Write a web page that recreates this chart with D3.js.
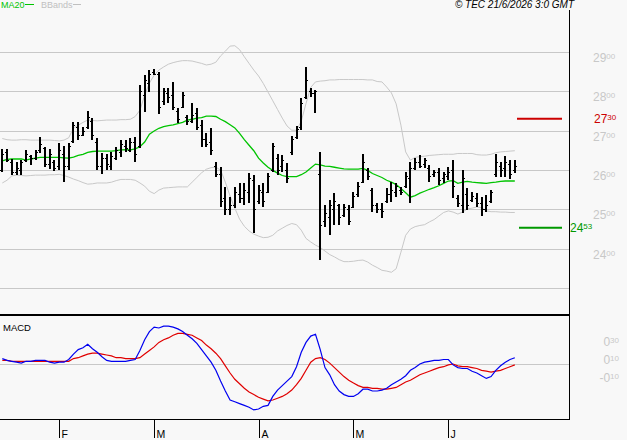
<!DOCTYPE html>
<html>
<head>
<meta charset="utf-8">
<script src="https://cdn.jsdelivr.net/npm/d3@7"></script>
<style>
  html, body { margin: 0; padding: 0; background: #f8f8f8; }
  svg { display: block; font-family: Arial, "Liberation Sans", sans-serif; }
</style>
</head>
<body>
<div id="chart"></div>
<script>
// daily bars, one per trading session (mid-January to mid-June)
const high = [
  2653, 2653, 2628, 2620, 2625, 2651, 2638, 2651, 2684, 2658,
  2653, 2625, 2668, 2661, 2668, 2722, 2722, 2709, 2750, 2732,
  2681, 2643, 2640, 2645, 2658, 2676, 2676, 2681, 2684, 2816,
  2841, 2854, 2857, 2849, 2808, 2808, 2824, 2757, 2798, 2740,
  2770, 2757, 2727, 2694, 2707, 2620, 2607, 2557, 2531, 2557,
  2567, 2567, 2592, 2587, 2562, 2567, 2592, 2668, 2640, 2638,
  2618, 2686, 2712, 2783, 2862, 2808, 2803, 2645, 2511, 2523,
  2541, 2513, 2513, 2511, 2544, 2569, 2640, 2605, 2554, 2516,
  2516, 2554, 2569, 2567, 2557, 2595, 2620, 2630, 2638, 2630,
  2613, 2600, 2605, 2595, 2607, 2625, 2536, 2600, 2554, 2544,
  2541, 2531, 2536, 2549, 2640, 2620, 2635, 2625, 2625
];
const low = [
  2595, 2620, 2587, 2587, 2587, 2620, 2613, 2625, 2643, 2607,
  2602, 2597, 2600, 2569, 2600, 2668, 2676, 2686, 2704, 2676,
  2600, 2590, 2600, 2600, 2625, 2633, 2645, 2645, 2620, 2656,
  2747, 2798, 2841, 2742, 2765, 2770, 2752, 2719, 2757, 2714,
  2719, 2701, 2658, 2658, 2638, 2582, 2506, 2485, 2485, 2503,
  2516, 2511, 2516, 2440, 2513, 2506, 2541, 2595, 2587, 2595,
  2567, 2638, 2679, 2701, 2780, 2785, 2745, 2371, 2455, 2434,
  2460, 2460, 2480, 2460, 2503, 2531, 2567, 2574, 2493, 2490,
  2478, 2516, 2518, 2531, 2536, 2554, 2516, 2600, 2605, 2605,
  2569, 2582, 2562, 2567, 2574, 2529, 2506, 2490, 2498, 2518,
  2506, 2483, 2493, 2516, 2582, 2582, 2582, 2577, 2592
];
const open = [
  2600, 2645, 2620, 2595, 2600, 2625, 2635, 2630, 2650, 2655,
  2615, 2620, 2610, 2640, 2610, 2675, 2710, 2690, 2710, 2725,
  2670, 2610, 2630, 2610, 2630, 2645, 2660, 2650, 2670, 2660,
  2790, 2820, 2850, 2845, 2775, 2795, 2790, 2750, 2760, 2735,
  2725, 2745, 2715, 2680, 2670, 2610, 2590, 2530, 2500, 2510,
  2540, 2530, 2545, 2575, 2520, 2545, 2545, 2600, 2630, 2610,
  2600, 2645, 2685, 2710, 2785, 2800, 2795, 2590, 2470, 2480,
  2500, 2510, 2485, 2500, 2505, 2540, 2570, 2600, 2550, 2510,
  2500, 2520, 2540, 2545, 2550, 2560, 2580, 2605, 2620, 2615,
  2605, 2590, 2595, 2580, 2585, 2600, 2530, 2510, 2540, 2525,
  2530, 2515, 2500, 2520, 2590, 2610, 2605, 2615, 2600
];
const close = [
  2640, 2625, 2595, 2605, 2620, 2640, 2630, 2645, 2665, 2615,
  2640, 2605, 2650, 2610, 2660, 2715, 2690, 2700, 2735, 2690,
  2610, 2630, 2615, 2635, 2650, 2665, 2655, 2670, 2640, 2800,
  2830, 2845, 2845, 2760, 2800, 2785, 2760, 2730, 2790, 2725,
  2740, 2710, 2680, 2665, 2650, 2590, 2520, 2500, 2510, 2545,
  2530, 2550, 2580, 2500, 2550, 2520, 2585, 2660, 2600, 2625,
  2580, 2680, 2705, 2770, 2830, 2795, 2800, 2460, 2490, 2510,
  2520, 2480, 2505, 2470, 2535, 2560, 2620, 2585, 2510, 2500,
  2495, 2540, 2550, 2560, 2545, 2585, 2605, 2620, 2610, 2625,
  2585, 2595, 2575, 2590, 2595, 2560, 2515, 2580, 2510, 2535,
  2515, 2500, 2510, 2545, 2620, 2600, 2620, 2590, 2610
];
const ma20 = [
  2623, 2627, 2628, 2628, 2628, 2625, 2628, 2630, 2632, 2632,
  2632, 2632, 2632, 2631, 2630, 2633, 2637, 2640, 2645, 2647,
  2648, 2648, 2648, 2648, 2649, 2651, 2652, 2651, 2654, 2659,
  2671, 2691, 2699, 2706, 2710, 2713, 2715, 2718, 2721, 2727,
  2729, 2732, 2733, 2737, 2737, 2736, 2729, 2723, 2715, 2707,
  2693, 2677, 2663, 2649, 2630, 2618, 2607, 2599, 2592, 2586,
  2583, 2583, 2583, 2588, 2595, 2605, 2615, 2613, 2610, 2609,
  2607, 2605, 2603, 2602, 2602, 2602, 2604, 2599, 2591, 2586,
  2581, 2574, 2569, 2563, 2553, 2542, 2531, 2535, 2541, 2546,
  2551, 2555, 2560, 2566, 2572, 2573, 2566, 2569, 2571, 2569,
  2568, 2567, 2566, 2568, 2569, 2571, 2572, 2572, 2572
];
const bbUpper = [
  2680, 2677, 2676, 2676, 2677, 2677, 2676, 2676, 2676, 2676,
  2676, 2675, 2674, 2676, 2682, 2707, 2714, 2721, 2727, 2726,
  2725, 2726, 2727, 2727, 2727, 2728, 2728, 2729, 2736, 2752,
  2790, 2821, 2841, 2854, 2862, 2869, 2873, 2876, 2878, 2878,
  2877, 2874, 2871, 2867, 2869, 2874, 2890, 2902, 2915, 2916,
  2906, 2888, 2871, 2854, 2839, 2820, 2798, 2776, 2754, 2732,
  2712, 2701, 2701, 2724, 2769, 2810, 2824, 2826, 2827, 2829,
  2829, 2830, 2830, 2830, 2830, 2830, 2830, 2829, 2829, 2825,
  2824, 2811, 2796, 2768, 2714, 2646, 2625, 2632, 2634, 2635,
  2637, 2638, 2639, 2640, 2640, 2640, 2642, 2642, 2642, 2642,
  2639, 2638, 2638, 2640, 2644, 2646, 2647, 2648, 2649
];
const bbLower = [
  2567, 2574, 2585, 2587, 2586, 2585, 2586, 2587, 2587, 2587,
  2588, 2588, 2589, 2586, 2582, 2577, 2573, 2568, 2564, 2565,
  2567, 2567, 2567, 2569, 2573, 2576, 2576, 2576, 2574, 2567,
  2559, 2546, 2540, 2549, 2554, 2555, 2556, 2557, 2557, 2557,
  2569, 2581, 2593, 2602, 2606, 2607, 2600, 2569, 2534, 2503,
  2475, 2457, 2445, 2437, 2432, 2428, 2429, 2434, 2445, 2452,
  2459, 2464, 2461, 2447, 2426, 2417, 2409, 2403, 2394, 2385,
  2379, 2372, 2367, 2367, 2368, 2370, 2371, 2366, 2358, 2352,
  2345, 2343, 2340, 2349, 2391, 2434, 2450, 2456, 2459, 2461,
  2468, 2474, 2483, 2492, 2496, 2493, 2488, 2493, 2501, 2503,
  2506, 2504, 2496, 2494, 2494, 2493, 2493, 2492, 2492
];
const macd = [
  0.06, 0.04, 0.03, 0.02, 0.01, 0.03, 0.03, 0.04, 0.04, 0.04,
  0.02, 0.01, 0.02, 0.02, 0.05, 0.11, 0.16, 0.18, 0.22, 0.17,
  0.13, 0.08, 0.04, 0.03, 0.03, 0.03, 0.03, 0.04, 0.05, 0.15,
  0.27, 0.36, 0.41, 0.40, 0.42, 0.42, 0.41, 0.39, 0.36, 0.32,
  0.28, 0.23, 0.16, 0.09, 0.02, -0.07, -0.19, -0.30, -0.40, -0.42,
  -0.44, -0.46, -0.48, -0.51, -0.50, -0.47, -0.46, -0.36, -0.29, -0.24,
  -0.19, -0.14, -0.03, 0.13, 0.24, 0.31, 0.33, 0.16, -0.04, -0.12,
  -0.23, -0.30, -0.34, -0.36, -0.36, -0.33, -0.28, -0.28, -0.30, -0.30,
  -0.29, -0.27, -0.23, -0.20, -0.17, -0.13, -0.07, -0.04, 0.00, 0.02,
  0.03, 0.04, 0.04, 0.05, 0.05, -0.01, -0.04, -0.05, -0.05, -0.08,
  -0.10, -0.13, -0.16, -0.14, -0.07, -0.02, 0.02, 0.05, 0.07
];
const signal = [
  0.04, 0.04, 0.03, 0.03, 0.03, 0.03, 0.03, 0.03, 0.03, 0.03,
  0.03, 0.03, 0.03, 0.03, 0.03, 0.06, 0.07, 0.09, 0.11, 0.12,
  0.12, 0.11, 0.10, 0.09, 0.07, 0.07, 0.06, 0.06, 0.06, 0.07,
  0.11, 0.15, 0.19, 0.24, 0.27, 0.29, 0.32, 0.34, 0.34, 0.33,
  0.32, 0.29, 0.26, 0.21, 0.17, 0.12, 0.06, -0.02, -0.10, -0.17,
  -0.22, -0.27, -0.31, -0.34, -0.37, -0.39, -0.41, -0.40, -0.38, -0.36,
  -0.33, -0.29, -0.23, -0.16, -0.07, 0.02, 0.06, 0.07, 0.05, 0.01,
  -0.04, -0.09, -0.14, -0.18, -0.21, -0.24, -0.26, -0.26, -0.27, -0.27,
  -0.28, -0.28, -0.27, -0.26, -0.23, -0.20, -0.18, -0.15, -0.12, -0.10,
  -0.08, -0.06, -0.04, -0.03, -0.01, 0.00, -0.02, -0.03, -0.03, -0.04,
  -0.05, -0.07, -0.08, -0.09, -0.08, -0.07, -0.05, -0.03, -0.01
];

const monthIdx = [12, 32, 54, 74, 94];
const monthLabels = ["F", "M", "A", "M", "J"];
const priceGrid = [2300, 2400, 2500, 2600, 2700, 2800, 2900];
const priceLabels = [2400, 2500, 2600, 2700, 2800, 2900];
const macdLabels = [0.30, 0.10, -0.10];
const resistance = 2730;
const support = 2453;

(() => {
  const width = 627;
  const height = 440;
  const plotRight = 569;
  const gridColor = "#c8c8c8";

  const svg = d3.select("#chart")
    .append("svg")
    .attr("width", width)
    .attr("height", height);

  svg.append("rect")
    .attr("width", width).attr("height", height)
    .attr("fill", "#f8f8f8");

  const x = d3.scaleLinear().domain([0, high.length - 1]).range([2.3, 514.8]);
  const y = d3.scaleLinear().domain([2300, 2900]).range([288, 52]);
  const ym = d3.scaleLinear().domain([-0.1, 0.3]).range([373, 337]);

  // big digits + small raised digits, like the original labels
  function splitLabel(t, big, small, bigSize, smallSize) {
    t.append("tspan").text(big).style("font-size", bigSize + "px");
    t.append("tspan").text(small).attr("dy", -3.5).style("font-size", smallSize + "px");
  }

  // price grid
  svg.append("g")
    .selectAll("line")
    .data(priceGrid)
    .join("line")
    .attr("x1", 0).attr("x2", plotRight)
    .attr("y1", d => Math.round(y(d)) + 0.5)
    .attr("y2", d => Math.round(y(d)) + 0.5)
    .attr("stroke", gridColor);

  svg.append("g")
    .selectAll("text")
    .data(priceLabels)
    .join("text")
    .attr("x", 593)
    .attr("y", d => Math.round(y(d)) + 10)
    .attr("fill", gridColor)
    .each(function (d) {
      const s = String(d);
      splitLabel(d3.select(this), s.slice(0, 2), s.slice(2), 12, 8);
    });

  // bollinger bands
  const lineOf = (arr, sc) => d3.line().x((d, i) => x(i)).y(d => sc(d))(arr);

  svg.append("path").attr("d", lineOf(bbUpper, y))
    .attr("fill", "none").attr("stroke", gridColor).attr("stroke-width", 1);
  svg.append("path").attr("d", lineOf(bbLower, y))
    .attr("fill", "none").attr("stroke", gridColor).attr("stroke-width", 1);

  // MA20
  svg.append("path").attr("d", lineOf(ma20, y))
    .attr("fill", "none").attr("stroke", "#00c400").attr("stroke-width", 1.3);

  // OHLC bars
  const bars = svg.append("g").attr("fill", "#000").attr("shape-rendering", "crispEdges");
  high.forEach((h, i) => {
    const xi = Math.round(x(i));
    const yh = Math.round(y(h));
    const yl = Math.round(y(low[i]));
    bars.append("rect").attr("x", xi - 1).attr("y", yh).attr("width", 2).attr("height", Math.max(1, yl - yh));
    bars.append("rect").attr("x", xi - 2).attr("y", Math.round(y(open[i]))).attr("width", 1).attr("height", 1);
    bars.append("rect").attr("x", xi + 1).attr("y", Math.round(y(close[i]))).attr("width", 1).attr("height", 1);
  });

  // resistance / support levels
  svg.append("line")
    .attr("x1", 517).attr("x2", 562)
    .attr("y1", y(resistance)).attr("y2", y(resistance))
    .attr("stroke", "#cc0000").attr("stroke-width", 2);
  svg.append("text")
    .attr("x", 594).attr("y", y(resistance) + 4.5)
    .attr("fill", "#cc0000")
    .call(t => splitLabel(t, String(resistance).slice(0, 2), String(resistance).slice(2), 12, 8));

  svg.append("line")
    .attr("x1", 519).attr("x2", 562)
    .attr("y1", y(support)).attr("y2", y(support))
    .attr("stroke", "#009900").attr("stroke-width", 2);
  svg.append("text")
    .attr("x", 570).attr("y", y(support) + 4.5)
    .attr("fill", "#009900")
    .call(t => splitLabel(t, String(support).slice(0, 2), String(support).slice(2), 12, 8));

  // MACD panel
  svg.append("line")
    .attr("x1", 0).attr("x2", plotRight)
    .attr("y1", Math.round(ym(0)) + 0.5).attr("y2", Math.round(ym(0)) + 0.5)
    .attr("stroke", gridColor);

  svg.append("g")
    .selectAll("text")
    .data(macdLabels)
    .join("text")
    .attr("x", 619)
    .attr("y", d => Math.round(ym(d)) + 9)
    .attr("text-anchor", "end")
    .attr("fill", gridColor)
    .each(function (d) {
      const parts = d.toFixed(2).split(".");
      splitLabel(d3.select(this), parts[0], parts[1], 12, 8);
    });

  svg.append("path").attr("d", lineOf(signal, ym))
    .attr("fill", "none").attr("stroke", "#e00000").attr("stroke-width", 1.2);
  svg.append("path").attr("d", lineOf(macd, ym))
    .attr("fill", "none").attr("stroke", "#0000f0").attr("stroke-width", 1.2);

  svg.append("text")
    .attr("x", 3).attr("y", 331)
    .style("font-size", "9.5px")
    .attr("fill", "#000")
    .text("MACD");

  // frame
  const frame = svg.append("g").attr("stroke", "#000").attr("shape-rendering", "crispEdges");
  frame.append("line").attr("x1", plotRight + 0.5).attr("x2", plotRight + 0.5).attr("y1", 10).attr("y2", 420);
  frame.append("line").attr("x1", 0).attr("x2", plotRight).attr("y1", 315).attr("y2", 315).attr("stroke-width", 2);
  frame.append("line").attr("x1", 0).attr("x2", plotRight + 1).attr("y1", 419.5).attr("y2", 419.5);

  // month ticks
  const months = svg.append("g");
  monthIdx.forEach((idx, k) => {
    const xm = Math.round(x(idx)) + 0.5;
    months.append("line")
      .attr("x1", xm).attr("x2", xm).attr("y1", 419).attr("y2", 438)
      .attr("stroke", "#000").attr("shape-rendering", "crispEdges");
    months.append("text")
      .attr("x", xm + 2).attr("y", 437.5)
      .style("font-size", "10.5px")
      .attr("fill", "#000")
      .text(monthLabels[k]);
  });

  // legend + copyright
  svg.append("text")
    .attr("x", 1).attr("y", 8)
    .style("font-size", "9px")
    .attr("fill", "#00c400")
    .text("MA20");
  svg.append("line")
    .attr("x1", 25).attr("x2", 34).attr("y1", 4.5).attr("y2", 4.5)
    .attr("stroke", "#00c400").attr("stroke-width", 1);
  svg.append("text")
    .attr("x", 41).attr("y", 8)
    .style("font-size", "9px")
    .attr("fill", "#c0c0c0")
    .text("BBands");
  svg.append("line")
    .attr("x1", 73).attr("x2", 81).attr("y1", 4.5).attr("y2", 4.5)
    .attr("stroke", "#c0c0c0").attr("stroke-width", 1);

  svg.append("text")
    .attr("x", 574).attr("y", 8)
    .attr("text-anchor", "end")
    .style("font-size", "10px")
    .style("font-style", "italic")
    .attr("fill", "#000")
    .text("© TEC 21/6/2026 3:0 GMT");
})();
</script>
</body>
</html>
